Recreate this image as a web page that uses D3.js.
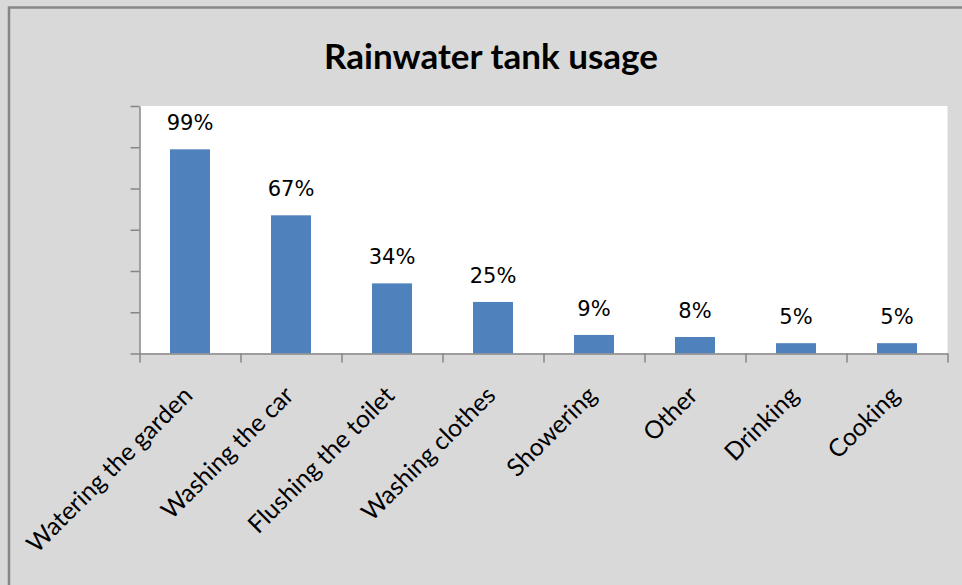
<!DOCTYPE html>
<html>
<head>
<meta charset="utf-8">
<script src="https://cdn.jsdelivr.net/npm/d3@7"></script>
<style>
  html, body { margin: 0; padding: 0; background: #d9d9d9; }
  svg { display: block; }
</style>
</head>
<body>
<svg id="chart" width="962" height="585"></svg>
<script>
const title = "Rainwater tank usage";
const categories = ["Watering the garden", "Washing the car", "Flushing the toilet", "Washing clothes", "Showering", "Other", "Drinking", "Cooking"];
const values = [99, 67, 34, 25, 9, 8, 5, 5];
const valueLabels = ["99%", "67%", "34%", "25%", "9%", "8%", "5%", "5%"];
const yTicks = [0, 20, 40, 60, 80, 100, 120];

const svg = d3.select("#chart");
const W = 962, H = 585;
const plot = { left: 139.5, right: 947.5, top: 106, bottom: 353.5 };
const axisColor = "#868686";

svg.append("rect").attr("x", 0).attr("y", 0).attr("width", W).attr("height", H).attr("fill", "#d9d9d9");
svg.append("rect").attr("x", 9).attr("y", 7.5).attr("width", 980).attr("height", 620)
  .attr("fill", "none").attr("stroke", axisColor).attr("stroke-width", 2.5);

svg.append("rect").attr("x", plot.left).attr("y", plot.top)
  .attr("width", plot.right - plot.left).attr("height", plot.bottom - plot.top).attr("fill", "#ffffff");

const x = d3.scaleBand().domain(categories).range([plot.left, plot.right]).padding(0);
const xEdge = d3.scaleLinear().domain([0, categories.length]).range([plot.left, plot.right]);
const y = d3.scaleLinear().domain([0, 120]).range([plot.bottom, plot.top]);

const barW = x.bandwidth() * 0.396;
svg.append("g").selectAll("rect").data(values).join("rect")
  .attr("x", (d, i) => x(categories[i]) + x.bandwidth() / 2 - barW / 2)
  .attr("y", d => y(d))
  .attr("width", barW)
  .attr("height", d => y(0) - y(d))
  .attr("fill", "#4f81bd");

// y axis
const yAxis = svg.append("g").attr("transform", `translate(${plot.left},0)`)
  .call(d3.axisLeft(y).tickValues(yTicks).tickSize(9).tickSizeOuter(0).tickFormat(""));
// x axis
const xAxis = svg.append("g").attr("transform", `translate(0,${plot.bottom})`)
  .call(d3.axisBottom(xEdge).tickValues(d3.range(categories.length + 1)).tickSize(9).tickSizeOuter(0).tickFormat(""));
[yAxis, xAxis].forEach(g => {
  g.select(".domain").attr("stroke", axisColor).attr("stroke-width", 1.5);
  g.selectAll(".tick line").attr("stroke", axisColor).attr("stroke-width", 1.5);
});

// value labels
svg.append("g").selectAll("text").data(values).join("text")
  .attr("x", (d, i) => x(categories[i]) + x.bandwidth() / 2)
  .attr("y", d => y(d) - 19)
  .attr("text-anchor", "middle")
  .attr("font-family", "'DejaVu Sans', Verdana, sans-serif")
  .attr("font-size", 21)
  .attr("fill", "#000")
  .text((d, i) => valueLabels[i]);

// category labels
const catFont = "Lato, 'Open Sans', sans-serif";
const catG = svg.append("g");
const cats = catG.selectAll("text").data(categories).join("text")
  .attr("text-anchor", "end")
  .attr("font-family", catFont)
  .attr("font-size", 22)
  .attr("fill", "#000")
  .attr("transform", d => `translate(${x(d) + x.bandwidth() / 2 + 4},${397}) rotate(-45)`)
  .text(d => d);
// fit size so the first label's length matches the reference
const firstLen = cats.node().getComputedTextLength();
const catSize = 22 * 222 / firstLen;
cats.attr("font-size", catSize.toFixed(2));

// title
const t = svg.append("text")
  .attr("x", 491).attr("y", 69)
  .attr("text-anchor", "middle")
  .attr("font-family", "Lato, 'Open Sans', sans-serif")
  .attr("font-weight", "bold")
  .attr("font-size", 34)
  .attr("fill", "#000")
  .text(title);
const tl = t.node().getComputedTextLength();
t.attr("font-size", (34 * 334 / tl).toFixed(2));
</script>
</body>
</html>
